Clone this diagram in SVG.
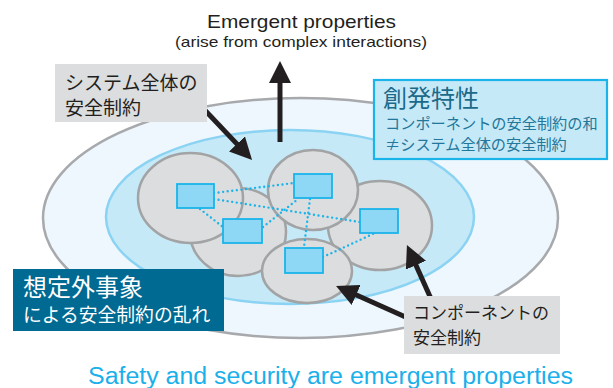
<svg xmlns="http://www.w3.org/2000/svg" width="613" height="388" viewBox="0 0 613 388">
<defs>
<style>
.jp{font-family:"Noto Sans CJK JP","Noto Sans",sans-serif}
.en{font-family:"Liberation Sans",Arial,sans-serif}
.cell{fill:#dcddde;stroke:#a2a3a5;stroke-width:2.5}
.comp{fill:#8ed8f6;stroke:#1ab4ea;stroke-width:1.8}
.dot{fill:none;stroke:#1ab4ea;stroke-width:2.4;stroke-linecap:round;stroke-dasharray:0 4.6}
.arr{fill:none;stroke:#231f20;stroke-width:5;marker-end:url(#head)}
.gbox{fill:#dcddde}
.gtxt{fill:#231f20}
</style>
<marker id="head" viewBox="0 0 22 22" refX="4" refY="11" markerWidth="22" markerHeight="22" markerUnits="userSpaceOnUse" orient="auto">
<path d="M0,0 L22,11 L0,22 z" fill="#231f20"/>
</marker>
</defs>
<rect width="613" height="388" fill="#ffffff"/>

<g id="system-outer">
<ellipse cx="300.5" cy="218" rx="257.5" ry="120" fill="#eef7fd" stroke="#a7a9ac" stroke-width="2.5"/>
</g>
<g id="emergent-inner">
<ellipse cx="290" cy="217" rx="184" ry="87" fill="#c6e9f8" stroke="#8bd3f3" stroke-width="2.5"/>
</g>

<g id="component-cells">
<ellipse id="cell2" class="cell" cx="238" cy="232" rx="48" ry="44"/>
<ellipse id="cell4" class="cell" cx="380" cy="225.5" rx="52" ry="44.5"/>
<ellipse id="cell1" class="cell" cx="190.5" cy="198" rx="52.5" ry="45"/>
<ellipse id="cell3" class="cell" cx="313" cy="190" rx="45" ry="40"/>
<ellipse id="cell5" class="cell" cx="307" cy="271" rx="45" ry="32"/>
</g>

<g id="interactions">
<line class="dot" x1="214" y1="193" x2="294" y2="183"/>
<line class="dot" x1="214" y1="199" x2="360" y2="222"/>
<line class="dot" x1="200" y1="209" x2="223" y2="227"/>
<line class="dot" x1="263" y1="227" x2="298" y2="199"/>
<line class="dot" x1="310" y1="199" x2="304" y2="247"/>
<line class="dot" x1="323" y1="257" x2="375" y2="233"/>
</g>

<g id="components">
<rect id="compA" class="comp" x="177" y="184" width="37" height="24"/>
<rect id="compB" class="comp" x="223" y="219" width="39" height="24"/>
<rect id="compC" class="comp" x="294" y="174" width="38" height="24"/>
<rect id="compD" class="comp" x="360" y="209" width="38" height="24"/>
<rect id="compE" class="comp" x="285" y="248" width="38" height="25"/>
</g>

<g id="connectors">
<line class="arr" x1="280" y1="142" x2="280" y2="79"/>
<line class="arr" x1="200" y1="105" x2="239.7" y2="146.9"/>
<line class="arr" x1="432" y1="301" x2="414.3" y2="261.5"/>
<line class="arr" x1="410" y1="319" x2="352.5" y2="293.3"/>
</g>

<g id="label-emergent-top">
<text class="en" x="207" y="28" font-size="18.5" textLength="189" lengthAdjust="spacingAndGlyphs" fill="#231f20">Emergent properties</text>
<text class="en" x="175" y="47" font-size="15" textLength="252" lengthAdjust="spacingAndGlyphs" fill="#231f20">(arise from complex interactions)</text>
</g>

<g id="label-system-constraint">
<rect class="gbox" x="55" y="64" width="152" height="58"/>
<text class="jp gtxt" x="65" y="90" font-size="19">システム全体の</text>
<text class="jp gtxt" x="65" y="115" font-size="19">安全制約</text>
</g>

<g id="label-emergence">
<rect x="374" y="80" width="233" height="79" fill="#c6e9f8" stroke="#1ab4ea" stroke-width="2.2"/>
<text class="jp" x="383" y="107" font-size="24" fill="#1b6a8a">創発特性</text>
<text class="jp" x="385" y="129" font-size="15.2" fill="#22779a">コンポーネントの安全制約の和</text>
<text class="jp" x="385" y="150" font-size="15.2" fill="#22779a">≠システム全体の安全制約</text>
</g>

<g id="label-unexpected">
<rect x="13" y="269" width="211" height="62" fill="#006a93"/>
<text class="jp" x="23" y="296" font-size="24" fill="#ffffff">想定外事象</text>
<text class="jp" x="23" y="322" font-size="18.8" fill="#ffffff">による安全制約の乱れ</text>
</g>

<g id="label-component-constraint">
<rect class="gbox" x="404" y="296" width="156" height="58"/>
<text class="jp gtxt" x="413" y="319" font-size="17">コンポーネントの</text>
<text class="jp gtxt" x="413" y="344" font-size="17">安全制約</text>
</g>

<g id="caption">
<text class="en" x="88" y="384" font-size="23" textLength="485" lengthAdjust="spacingAndGlyphs" fill="#1ab0ea">Safety and security are emergent properties</text>
</g>
</svg>
